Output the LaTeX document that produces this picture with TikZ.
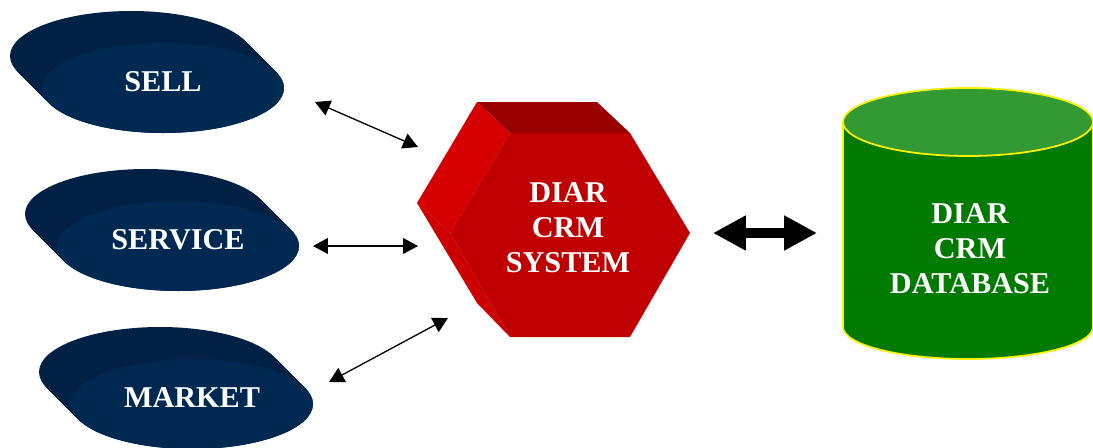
\documentclass[tikz,border=0pt]{standalone}
\usepackage{fontspec}
\setmainfont{Liberation Serif}
\usepackage{tikz}
\usetikzlibrary{arrows.meta}

\definecolor{navyfront}{RGB}{0,41,82}
\definecolor{navyside}{RGB}{0,33,68}
\definecolor{redfront}{RGB}{192,0,0}
\definecolor{redtop}{RGB}{153,0,0}
\definecolor{redleft}{RGB}{214,0,0}
\definecolor{redlow}{RGB}{204,0,0}
\definecolor{greenbody}{RGB}{0,122,0}
\definecolor{greentop}{RGB}{51,153,51}

\begin{document}
\begin{tikzpicture}[x=0.02cm,y=-0.02cm,>={Triangle[length=8.5pt,width=9pt]}]
        \tikzstyle{lbl}=[text=white,font=\fontsize{17.2}{20}\selectfont\bfseries,align=center,inner sep=0pt]
        \useasboundingbox (0,0) rectangle (1093,447);

        % extruded ellipses on the left
        \foreach \name/\x/\y in {SELL/163/88, SERVICE/178/246, MARKET/192/404}{
                \foreach \i in {0,...,20}
                    \fill[navyside] (\x-32+1.6*\i,\y-32+1.6*\i) ellipse [x radius=121, y radius=45];
                \fill[navyfront] (\x,\y) ellipse [x radius=121, y radius=45];
                \node[lbl] (V-\name) at (\x,\y-6) {\name};
        }

        % hexagon
        \fill[redtop] (477,102) -- (597,102) -- (630,133) -- (510,133) -- cycle;
        \fill[redleft] (477,102) -- (510,133) -- (450,233) -- (417,203) -- cycle;
        \fill[redlow] (417,203) -- (450,233) -- (510,337) -- (477,303) -- cycle;
        \fill[redfront] (510,133) -- (630,133) -- (690,233) -- (630,337) -- (510,337) -- (450,233) -- cycle;
        \node[lbl] (V-crm) at (568,228) {DIAR\\CRM\\SYSTEM};

        % cylinder
        \filldraw[fill=greenbody,draw=yellow,line width=1pt] (843,122) -- (843,327)
            arc [start angle=180, end angle=0, x radius=125, y radius=32] -- (1093,122) -- cycle;
        \filldraw[fill=greentop,draw=yellow,line width=1pt] (968,122) ellipse [x radius=125, y radius=34];
        \node[lbl] (V-db) at (970,249) {DIAR\\CRM\\DATABASE};

        % arrow ends
        \coordinate (A-sell) at (315,102);   \coordinate (B-sell) at (418,147);
        \coordinate (A-service) at (313,246); \coordinate (B-service) at (418,246);
        \coordinate (A-market) at (329,382); \coordinate (B-market) at (448,318);
        \coordinate (A-db) at (713,233);     \coordinate (B-db) at (817,233);

        \foreach \from/\to in {A-sell/B-sell, A-service/B-service, A-market/B-market}
            \draw[<->,line width=0.75pt] (\from) -- (\to);

        \draw[{Triangle[length=18.7pt,width=18.7pt]}-{Triangle[length=18.7pt,width=18.7pt]},line width=5.7pt] (A-db) -- (B-db);
\end{tikzpicture}
\end{document}
